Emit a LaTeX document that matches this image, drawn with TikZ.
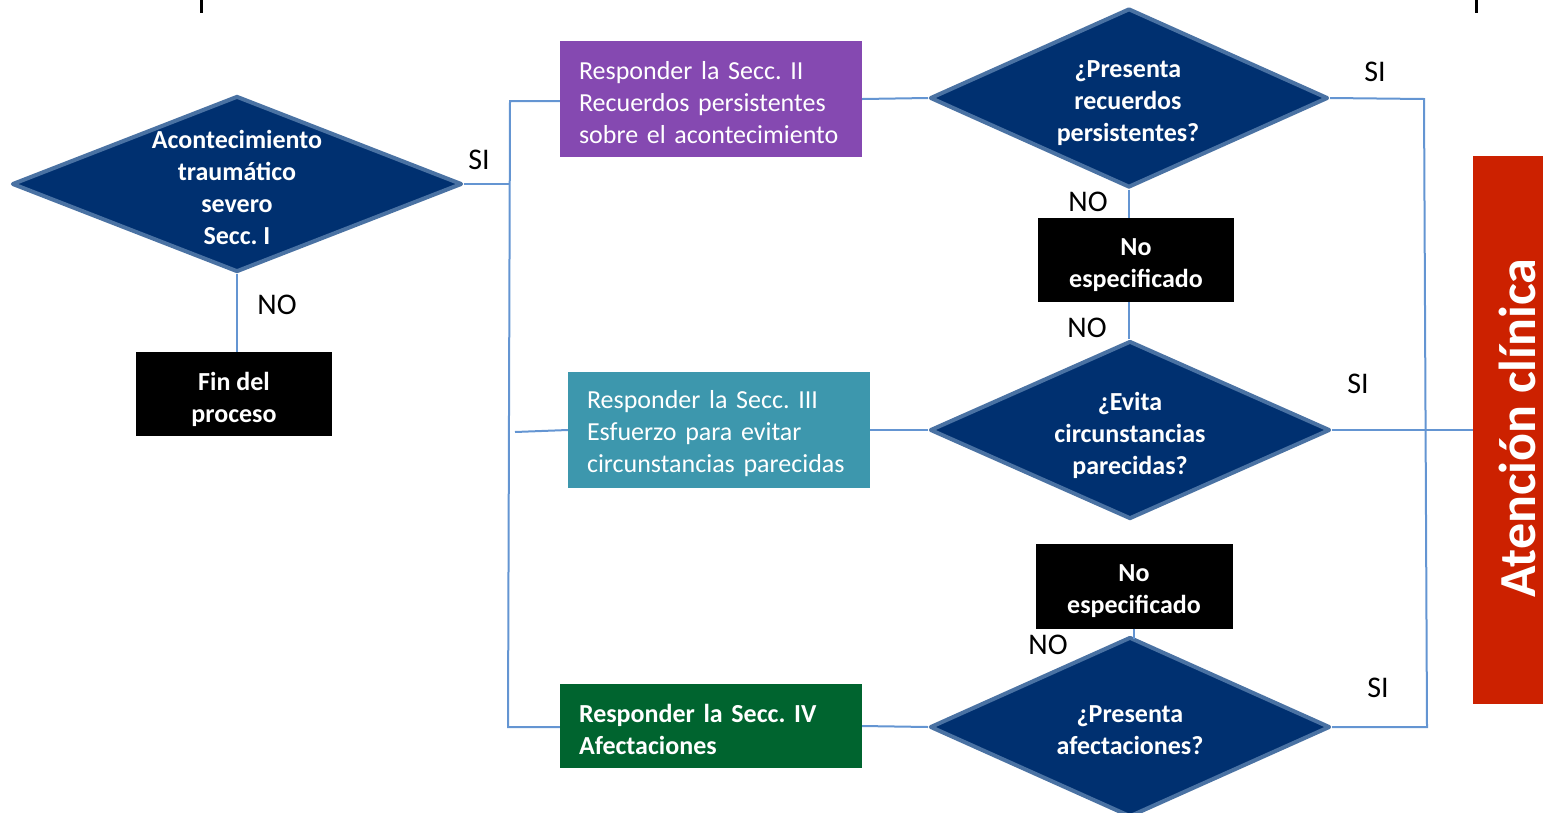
\documentclass[tikz,border=0pt]{standalone}
\usepackage{fontspec}
\setmainfont{Carlito}
\usetikzlibrary{shapes.geometric}
\definecolor{navy}{HTML}{003070}
\definecolor{dborder}{HTML}{4A72A3}
\definecolor{conn}{HTML}{6495D2}
\definecolor{purp}{HTML}{8549B1}
\definecolor{teal2}{HTML}{3D97AD}
\definecolor{green2}{HTML}{00642F}
\definecolor{red2}{HTML}{CC2100}
\tikzset{
  decision/.style={shape=diamond, fill=navy, draw=dborder, line width=4pt, line join=round, inner sep=0pt},
  dtext/.style={text=white, font=\fontsize{26}{32}\selectfont\bfseries\frenchspacing, align=center, inner sep=0pt},
  blackbox/.style={fill=black, inner sep=0pt, minimum width=196pt, minimum height=84pt},
  btext/.style={text=white, font=\fontsize{26}{32}\selectfont\bfseries\frenchspacing, align=center, inner sep=0pt},
  secbox/.style={inner sep=0pt, minimum width=302pt, minimum height=116pt},
  stext/.style={text=white, font=\fontsize{26}{32}\selectfont\frenchspacing, align=left, inner sep=0pt, text width=264pt},
  lbl/.style={font=\fontsize{30}{36}\selectfont, inner sep=0pt},
  conline/.style={draw=conn, line width=2pt},
}
\begin{document}
\begin{tikzpicture}[x=1pt,y=-1pt]
\useasboundingbox (0,0) rectangle (1543,812);
% top ticks
\draw[line width=3pt] (201,0) -- (201,13);
\draw[line width=3pt] (1476,0) -- (1476,13);

% coordinates
\coordinate (jt) at (510,101);
\coordinate (jb) at (508,727);
\coordinate (c3) at (515,432);
\coordinate (rt) at (1424,99);
\coordinate (rb) at (1427,727);

% decisions
\node[decision, minimum width=450pt, minimum height=176pt] (d1) at (237,184) {};
\node[decision, minimum width=398pt, minimum height=179pt] (d2) at (1129,98) {};
\node[decision, minimum width=400pt, minimum height=178pt] (d3) at (1130,430) {};
\node[decision, minimum width=400pt, minimum height=180pt] (d4) at (1130,727) {};

% boxes
\node[blackbox] (fin) at (234,394) {};
\node[blackbox] (n1) at (1136,260) {};
\node[blackbox, minimum width=197pt, minimum height=85pt] (n2) at (1134,586) {};
\node[secbox, fill=purp] (b2) at (711,99) {};
\node[secbox, fill=teal2] (b3) at (719,430) {};
\node[secbox, fill=green2, minimum height=84pt] (b4) at (711,726) {};

% box texts
\node[btext] (fint) at (234,399) {Fin del\\proceso};
\node[btext] (n1t) at (1136,265) {No\\especificado};
\node[btext] (n2t) at (1134,591) {No\\especificado};
\node[stext] (b2t) at (711,103) {Responder la Secc. II\\\makebox[264pt][s]{Recuerdos persistentes}\\sobre el acontecimiento};
\node[stext] (b3t) at (719,434) {Responder la Secc. III\\\makebox[264pt][s]{Esfuerzo para evitar}\\circunstancias parecidas};
\node[stext, font=\fontsize{26}{32}\selectfont\bfseries\frenchspacing] (b4t) at (711,729) {Responder la Secc. IV\\Afectaciones};

% red bar
\node[fill=red2, minimum width=70pt, minimum height=548pt, inner sep=0pt] (ac) at (1508,430) {};
\node[rotate=90, anchor=base, text=white, font=\fontsize{52}{60}\selectfont\bfseries, inner sep=0pt] (act) at (1535,428) {Atención clínica};

% connectors
\draw[conline] (d1.east) -- (d1.east -| jt);
\draw[conline] (b2.west |- jt) -- (jt) -- (jb) -- (b4.west |- jb);
\draw[conline] (c3) -- (b3.west);
\draw[conline] (d1.south) -- (d1.south |- fin.north);
\draw[conline] (b2.east) -- (d2.west);
\draw[conline] (b3.east) -- (d3.west);
\draw[conline] (b4.east) -- (d4.west);
\draw[conline] (d2.east) -- (rt) -- (rb) -- (d4.east);
\draw[conline] (d3.east) -- (ac.west);
\draw[conline] (d2.south) -- (d2.south |- n1.north);
\draw[conline] (n1.south -| d2.south) -- (d3.north -| d2.south);
\draw[conline] (n2.south) -- ++(0,10);

% decision texts
\node[dtext] (d1t) at (237,187) {Acontecimiento\\traumático\\severo\\Secc. I};
\node[dtext] (d2t) at (1128,103) {¿Presenta\\recuerdos\\persistentes?};
\node[dtext] (d3t) at (1130,435) {¿Evita\\circunstancias\\parecidas?};
\node[dtext] (d4t) at (1130,730) {¿Presenta\\afectaciones?};

% labels
\node[lbl] (si1) at (479,160) {SI};
\node[lbl] (no1) at (277,305) {NO};
\node[lbl] (si2) at (1375,72) {SI};
\node[lbl] (no2) at (1088,202) {NO};
\node[lbl] (no3) at (1087,328) {NO};
\node[lbl] (si3) at (1358,384) {SI};
\node[lbl] (no4) at (1048,645) {NO};
\node[lbl] (si4) at (1378,688) {SI};
\end{tikzpicture}
\end{document}
